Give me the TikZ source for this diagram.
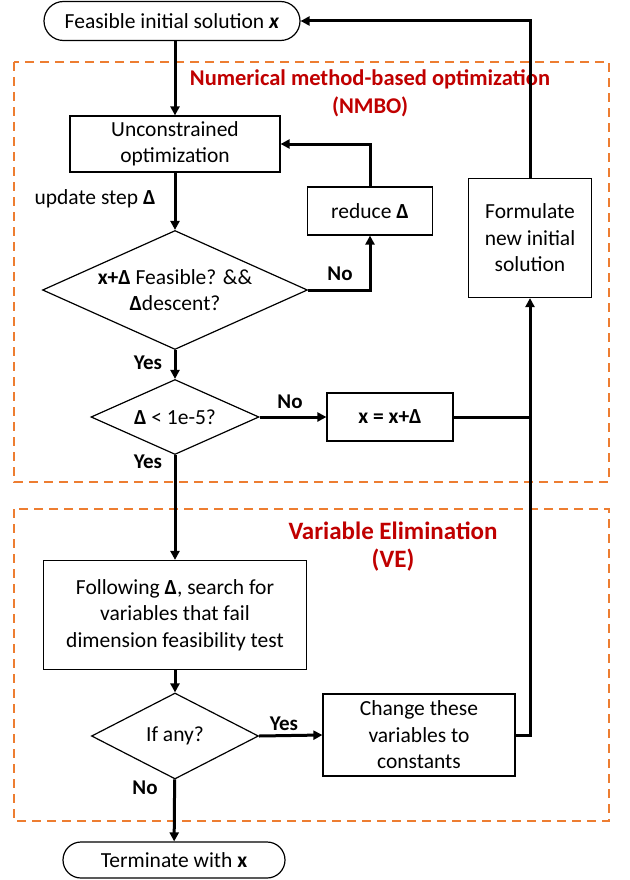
\documentclass[tikz,border=0pt]{standalone}
\usepackage{fontspec}
\setmainfont{Carlito}
\usetikzlibrary{shapes.geometric,shapes.misc,arrows.meta}
\definecolor{orng}{HTML}{ED7D31}
\definecolor{dred}{HTML}{C00000}
\tikzset{
  box/.style={draw, line width=1.2pt, rectangle, align=center, inner sep=0pt},
  term/.style={draw, line width=1.2pt, rounded rectangle, align=center, inner sep=0pt},
  dia/.style={draw, line width=1.2pt, diamond, align=center, inner sep=0pt},
  conn/.style={line width=3pt, -{Triangle[length=9pt,width=9pt]}},
  plain/.style={line width=3pt},
  region/.style={draw=orng, line width=1.6pt, dash pattern=on 9pt off 6pt},
  ttl/.style={text=dred, font=\bfseries\fontsize{22.5}{27}\selectfont},
  ttlb/.style={text=dred, font=\bfseries\fontsize{25}{30}\selectfont},
  lbl/.style={font=\bfseries\fontsize{21}{25}\selectfont},
}
\begin{document}
\begin{tikzpicture}[x=1pt,y=-1pt,font=\fontsize{21.5}{26.5}\selectfont]
\useasboundingbox (0,0) rectangle (629,880);
% regions
\draw[region] (14,62) rectangle (609,482);
\draw[region] (14,509) rectangle (609,821);
\node[ttl] (t1) at (370,79) {Numerical method-based optimization};
\node[ttl] (t1b) at (370,107) {(NMBO)};
\node[ttlb] (t2) at (393,531) {Variable Elimination};
\node[ttlb] (t2b) at (393,560) {(VE)};
% nodes
\node[term, minimum width=256pt, minimum height=39pt] (start) at (172,21) {Feasible initial solution \textbf{\textit{x}}};
\node[box, minimum width=210pt, minimum height=56pt] (unc) at (175,144) {Unconstrained\\optimization};
\node (upl) at (95,199) {update step \textbf{Δ}};
\node[box, minimum width=125pt, minimum height=48pt] (red) at (370,211) {reduce \textbf{Δ}};
\node[box, minimum width=123pt, minimum height=119pt] (form) at (530,238) {Formulate\\new initial\\solution};
\node[dia, minimum width=265pt, minimum height=119pt, aspect=2.23] (d1) at (175,290) {\textbf{x+Δ} Feasible? \&\&\\\textbf{Δ}descent?};
\node[lbl] (no1) at (340,274) {No};
\node[lbl] (yes1) at (148,363) {Yes};
\node[dia, minimum width=168pt, minimum height=75pt, aspect=2.24] (d2) at (175,417) {\textbf{Δ} < 1e-5?};
\node[lbl] (no2) at (290,402) {No};
\node[box, minimum width=126pt, minimum height=48pt, font=\bfseries\fontsize{21.5}{26.5}\selectfont] (upd) at (390,417) {x = x+Δ};
\node[lbl] (yes2) at (148,462) {Yes};
\node[box, minimum width=263pt, minimum height=109pt] (fol) at (175,615) {Following \textbf{Δ}, search for\\variables that fail\\dimension feasibility test};
\node[dia, minimum width=167pt, minimum height=86pt, aspect=1.94] (d3) at (175,736) {If any?};
\node[lbl] (yes3) at (284,724) {Yes};
\node[box, minimum width=192pt, minimum height=82pt] (chg) at (419,735) {Change these\\variables to\\constants};
\node[lbl] (no3) at (145,788) {No};
\node[term, minimum width=222pt, minimum height=36pt] (end) at (174,860) {Terminate with \textbf{x}};
% connectors
\draw[conn] (start.south -| unc.north) -- (unc.north);
\draw[conn] (unc) -- (d1);
\draw[conn] (d1.east) -| (red.south);
\draw[conn] (red.north) |- (unc.east);
\draw[conn] (d1) -- (d2);
\draw[conn] (d2.east) -- (upd.west);
\draw[conn] (upd.east) -| (form.south);
\draw[plain] (chg.east) -| (upd.east -| form.south);
\draw[conn] (form.north) |- (start.east);
\draw[conn] (d2) -- (fol);
\draw[conn] (fol) -- (d3);
\draw[conn] (d3.east) -- (chg.west);
\draw[conn] (d3) -- (end);
\end{tikzpicture}
\end{document}
